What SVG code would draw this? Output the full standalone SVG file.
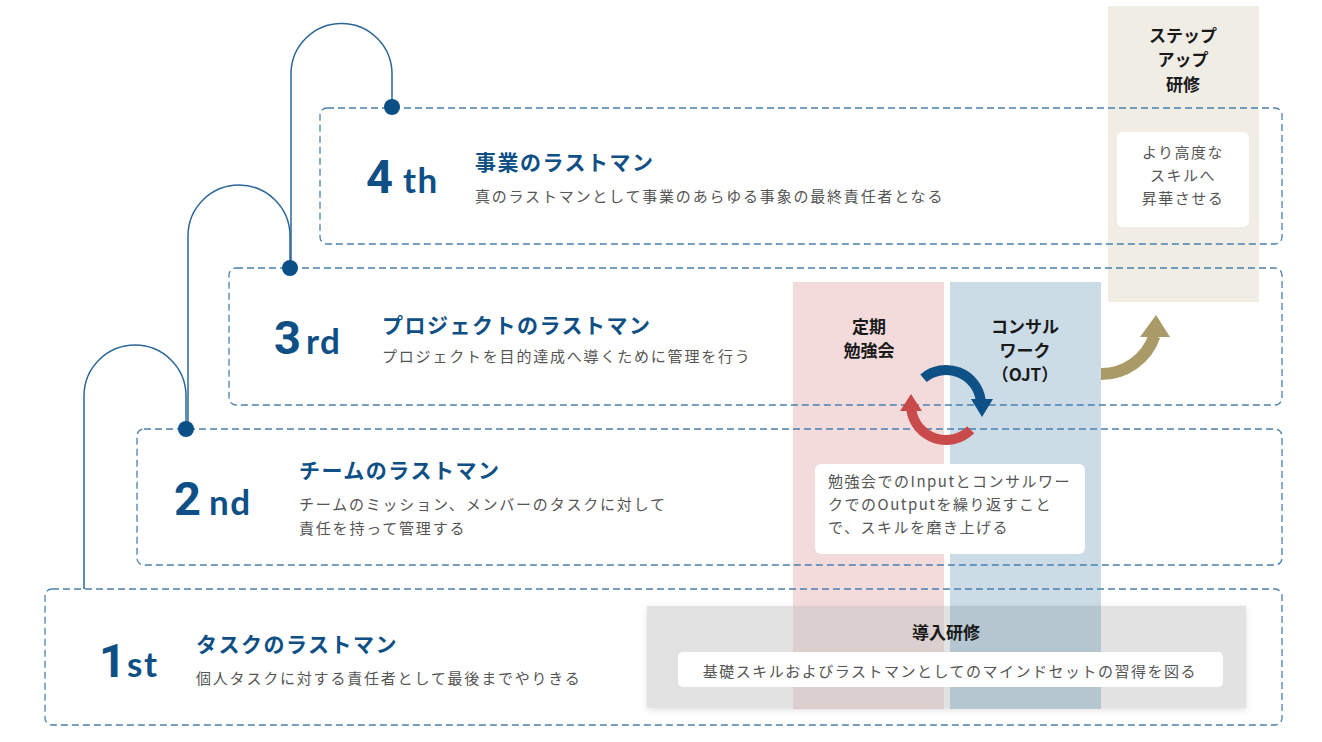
<svg xmlns="http://www.w3.org/2000/svg" width="1322" height="742" viewBox="0 0 1322 742">
<defs>
<style>
.box{fill:none;stroke:#4a80ae;stroke-width:1.3;stroke-dasharray:7 4}
.conn{fill:none;stroke:#2b679b;stroke-width:1.5}
.dot{fill:#0b4f87}
.big{font-family:Roboto,"Noto Sans",sans-serif;font-weight:700;font-size:47px;fill:#0e4f85}
.suf{font-family:Lato,"Noto Sans",sans-serif;font-weight:700;font-size:35px;fill:#0e4f85;letter-spacing:1.5px}
.title{font-family:"Noto Sans CJK JP",sans-serif;font-weight:700;font-size:21px;fill:#0e4f85;letter-spacing:1.5px}
.sub{font-family:"Noto Sans CJK JP",sans-serif;font-size:15px;fill:#555;letter-spacing:1.8px}
.head{font-family:"Noto Sans CJK JP",sans-serif;font-weight:700;font-size:17px;fill:#1a1a1a;text-anchor:middle}
.body{font-family:"Noto Sans CJK JP",sans-serif;font-size:15px;fill:#555;letter-spacing:1.5px}
.wbox{fill:#fff}
</style>
<filter id="sh" x="-5%" y="-20%" width="110%" height="140%">
<feDropShadow dx="0" dy="2" stdDeviation="3" flood-color="#000" flood-opacity="0.12"/>
</filter>
</defs>
<rect width="1322" height="742" fill="#fff"/>

<g id="columns">
<rect id="col-benkyo" x="793" y="282" width="151" height="427" fill="#f3dbdc"/>
<rect id="col-consul" x="950" y="282" width="151" height="427" fill="#cbdce7"/>
<rect id="col-stepup" x="1108" y="6" width="151" height="296" fill="#f0ede5"/>
</g>

<g id="connectors">
<path class="conn" d="M392,107 V74 A50.5,50.5 0 0 0 291,74 V268"/>
<path class="conn" d="M290,268 V236 A51,51 0 0 0 188,236 V429"/>
<path class="conn" d="M186,429 V396 A51,51 0 0 0 84,396 V589"/>
</g>

<g id="step4">
<rect class="box" x="320" y="108" width="962" height="136" rx="7"/>
<circle class="dot" cx="392" cy="107" r="8"/>
<text x="366" y="193"><tspan class="big">4</tspan><tspan class="suf" x="403">th</tspan></text>
<text class="title" x="475" y="170">事業のラストマン</text>
<text class="sub" x="475" y="202" letter-spacing="2.3">真のラストマンとして事業のあらゆる事象の最終責任者となる</text>
</g>

<g id="step3">
<rect class="box" x="229" y="268" width="1053" height="137" rx="7"/>
<circle class="dot" cx="290" cy="268" r="8"/>
<text x="274" y="354"><tspan class="big">3</tspan><tspan class="suf" x="306">rd</tspan></text>
<text class="title" x="382" y="333">プロジェクトのラストマン</text>
<text class="sub" x="382" y="362">プロジェクトを目的達成へ導くために管理を行う</text>
</g>

<g id="step2">
<rect class="box" x="137" y="429" width="1145" height="136" rx="7"/>
<circle class="dot" cx="186" cy="429" r="8"/>
<text x="174" y="515"><tspan class="big">2</tspan><tspan class="suf" x="209">nd</tspan></text>
<text class="title" x="299" y="478">チームのラストマン</text>
<text class="sub" x="299" y="510">チームのミッション、メンバーのタスクに対して</text>
<text class="sub" x="299" y="534">責任を持って管理する</text>
</g>

<g id="step1">
<rect class="box" x="45" y="589" width="1237" height="136" rx="7"/>
<text x="99" y="677"><tspan class="big">1</tspan><tspan class="suf" x="127">st</tspan></text>
<text class="title" x="196" y="652">タスクのラストマン</text>
<text class="sub" x="196" y="684">個人タスクに対する責任者として最後までやりきる</text>
</g>

<g id="intro">
<rect x="647" y="606" width="599" height="102" fill="#e2e2e2" filter="url(#sh)"/>
<rect x="793" y="606" width="151" height="102" fill="#dccfd0"/>
<rect x="950" y="606" width="151" height="102" fill="#b6c6d1"/>
<text class="head" x="946" y="639" font-size="16">導入研修</text>
<rect class="wbox" x="678" y="652" width="545" height="35" rx="5"/>
<text class="body" x="950" y="677" text-anchor="middle" letter-spacing="2.1">基礎スキルおよびラストマンとしてのマインドセットの習得を図る</text>
</g>

<g id="benkyo">
<text class="head" x="869" y="333">定期</text>
<text class="head" x="869" y="357">勉強会</text>
</g>

<g id="consul">
<text class="head" x="1025" y="333">コンサル</text>
<text class="head" x="1025" y="357">ワーク</text>
<text class="head" x="1025" y="381">（OJT）</text>
</g>

<g id="cycle-note">
<rect class="wbox" x="815" y="464" width="270" height="90" rx="6"/>
<text class="body" x="828" y="487">勉強会でのInputとコンサルワー</text>
<text class="body" x="828" y="510">クでのOutputを繰り返すこと</text>
<text class="body" x="828" y="533">で、スキルを磨き上げる</text>
</g>

<g id="stepup">
<text class="head" x="1183" y="42">ステップ</text>
<text class="head" x="1183" y="66">アップ</text>
<text class="head" x="1183" y="91">研修</text>
<rect class="wbox" x="1117" y="132" width="132" height="95" rx="6"/>
<text class="body" x="1183" y="158" text-anchor="middle">より高度な</text>
<text class="body" x="1183" y="181" text-anchor="middle">スキルへ</text>
<text class="body" x="1183" y="204" text-anchor="middle">昇華させる</text>
</g>

<g id="arrows">
<path d="M923.5,378.2 A35,35 0 0 1 980.7,400.1" fill="none" stroke="#0d5186" stroke-width="10"/>
<polygon points="971,399 993,399 982,417" fill="#0d5186"/>
<path d="M970.7,429.7 A35,35 0 0 1 911.3,409.9" fill="none" stroke="#c84a4b" stroke-width="10"/>
<polygon points="900,411 922,411 911,394" fill="#c84a4b"/>
<path d="M1101,374 A56,56 0 0 0 1154.4,336" fill="none" stroke="#a99a68" stroke-width="12"/>
<polygon points="1140,337 1170,337 1156,315" fill="#a99a68"/>
</g>
</svg>
